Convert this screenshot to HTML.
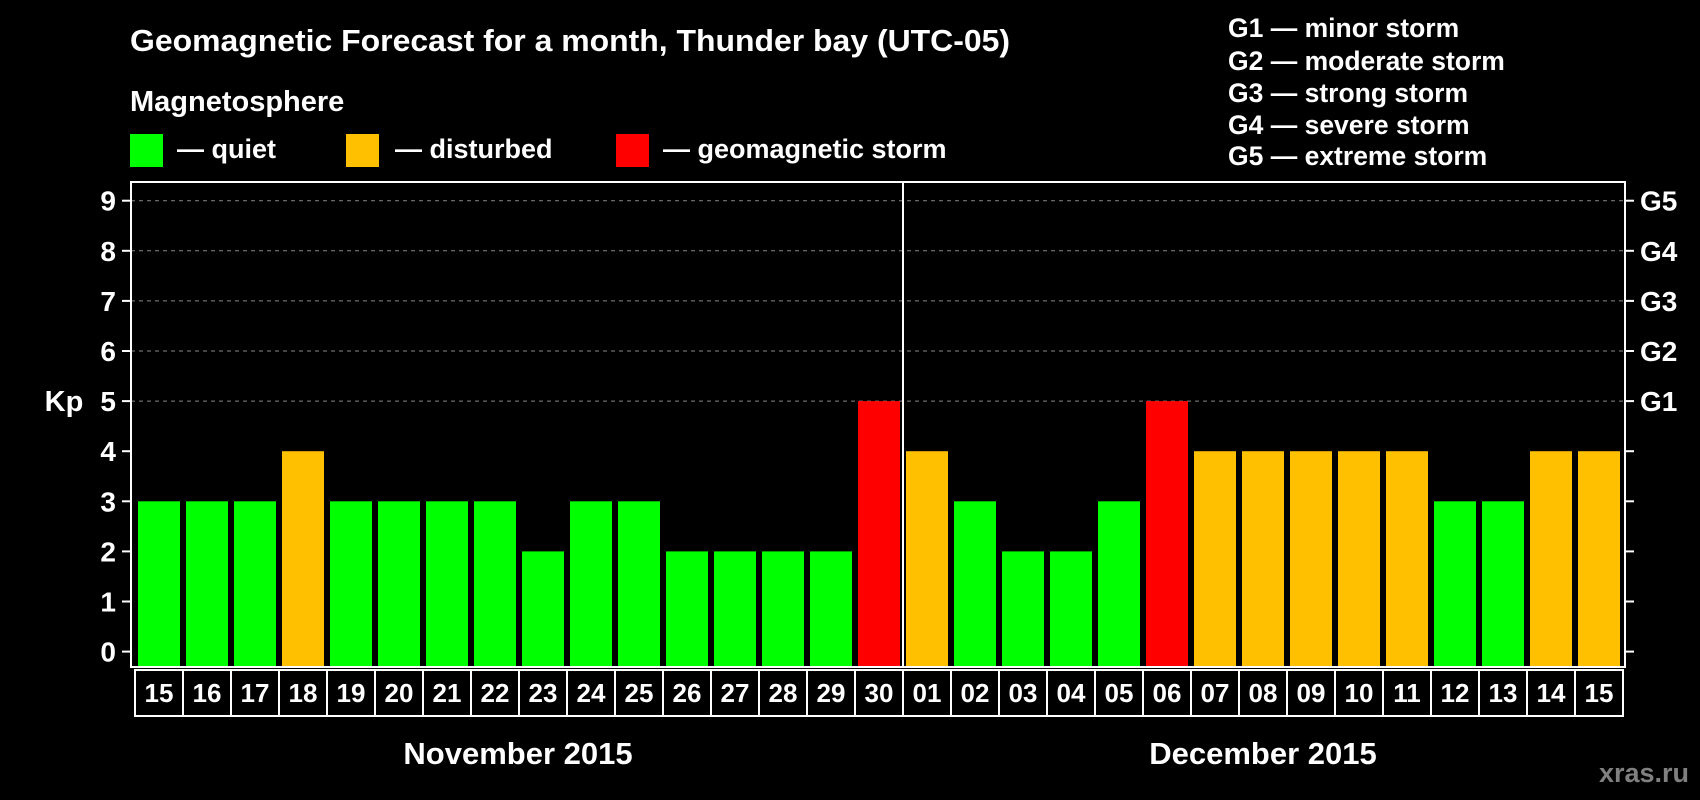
<!DOCTYPE html>
<html><head><meta charset="utf-8"><style>
html,body{margin:0;padding:0;background:#000;}
svg{display:block;font-family:"Liberation Sans",Arial,sans-serif;font-weight:bold;}
</style></head><body>
<svg id="chart" width="1700" height="800" viewBox="0 0 1700 800">
<text x="130" y="51" fill="#fff" font-size="31" textLength="880" lengthAdjust="spacingAndGlyphs">Geomagnetic Forecast for a month, Thunder bay (UTC-05)</text>
<text x="130" y="111" fill="#fff" font-size="29">Magnetosphere</text>
<g><rect x="130" y="134" width="33" height="33" fill="#00ff00"/><text x="177" y="158" fill="#fff" font-size="27">— quiet</text></g>
<g><rect x="346" y="134" width="33" height="33" fill="#ffc000"/><text x="395" y="158" fill="#fff" font-size="27">— disturbed</text></g>
<g><rect x="616" y="134" width="33" height="33" fill="#ff0000"/><text x="663" y="158" fill="#fff" font-size="27">— geomagnetic storm</text></g>
<g fill="#fff" font-size="26.5">
<text x="1228" y="37">G1 — minor storm</text>
<text x="1228" y="70">G2 — moderate storm</text>
<text x="1228" y="102">G3 — strong storm</text>
<text x="1228" y="134">G4 — severe storm</text>
<text x="1228" y="165">G5 — extreme storm</text>
</g>
<text x="64" y="411" fill="#fff" font-size="29" text-anchor="middle">Kp</text>
<g id="grid"></g><g id="bars"></g><g id="axes"></g><g id="xlabels"></g>
<text x="518" y="764" fill="#fff" font-size="31" text-anchor="middle">November 2015</text>
<text x="1263" y="764" fill="#fff" font-size="31" text-anchor="middle">December 2015</text>
<text x="1689" y="782" fill="#808080" font-size="27" text-anchor="end">xras.ru</text>
</svg>
<script>
const days = ["15","16","17","18","19","20","21","22","23","24","25","26","27","28","29","30","01","02","03","04","05","06","07","08","09","10","11","12","13","14","15"];
const kpValues = [3,3,3,4,3,3,3,3,2,3,3,2,2,2,2,5,4,3,2,2,3,5,4,4,4,4,4,3,3,4,4];
const yTicks = [0,1,2,3,4,5,6,7,8,9];
const gLabels = ["","","","","","G1","G2","G3","G4","G5"];
const NS="http://www.w3.org/2000/svg";
const L=131,R=1625,T=182,B=667,Y0=651.6,UNIT=50.1,X0=138,PITCH=48,BW=42;
const y=v=>Y0-v*UNIT, x=i=>X0+i*PITCH;
function mk(tag,attrs,parent){const e=document.createElementNS(NS,tag);for(const k in attrs)e.setAttribute(k,attrs[k]);parent.appendChild(e);return e;}
const grid=document.getElementById('grid'),bars=document.getElementById('bars'),axes=document.getElementById('axes'),xl=document.getElementById('xlabels');
yTicks.forEach((t,i)=>{
  if(t>=5){const g=mk('line',{x1:L,x2:R,y1:y(t),y2:y(t),stroke:'#888','stroke-dasharray':'4,4','stroke-width':1},grid);
  
  }
  mk('line',{x1:L-9,x2:L,y1:y(t),y2:y(t),stroke:'#fff','stroke-width':2},axes);
  mk('line',{x1:R,x2:R+9,y1:y(t),y2:y(t),stroke:'#fff','stroke-width':2},axes);
  const tl=mk('text',{x:116,y:y(t)+10,fill:'#fff','font-size':28,'text-anchor':'end'},axes);
  tl.textContent=t;
  
  
  if(gLabels[i]){const gl=mk('text',{x:1640,y:y(t)+10,fill:'#fff','font-size':28},axes);
  gl.textContent=gLabels[i];
  
  }
});
kpValues.forEach((v,i)=>{
  const c=v>=5?'#ff0000':(v>=4?'#ffc000':'#00ff00');
  const b=mk('rect',{x:x(i),y:y(v),width:BW,height:B-y(v),fill:c},bars);
  
  
  const bx=mk('rect',{x:x(i)-3,y:B+3,width:PITCH,height:46,fill:'none',stroke:'#fff','stroke-width':2},xl);
  
  
  const t=mk('text',{x:x(i)+BW/2,y:B+35,fill:'#fff','font-size':26,'text-anchor':'middle'},xl);
  t.textContent=days[i];
  
  
});
const fr=mk('rect',{x:L,y:T,width:R-L,height:B-T,fill:'none',stroke:'#fff','stroke-width':2},axes);


const dv=mk('line',{x1:x(16)-3,x2:x(16)-3,y1:T,y2:B,stroke:'#fff','stroke-width':2},axes);


</script>
</body></html>
